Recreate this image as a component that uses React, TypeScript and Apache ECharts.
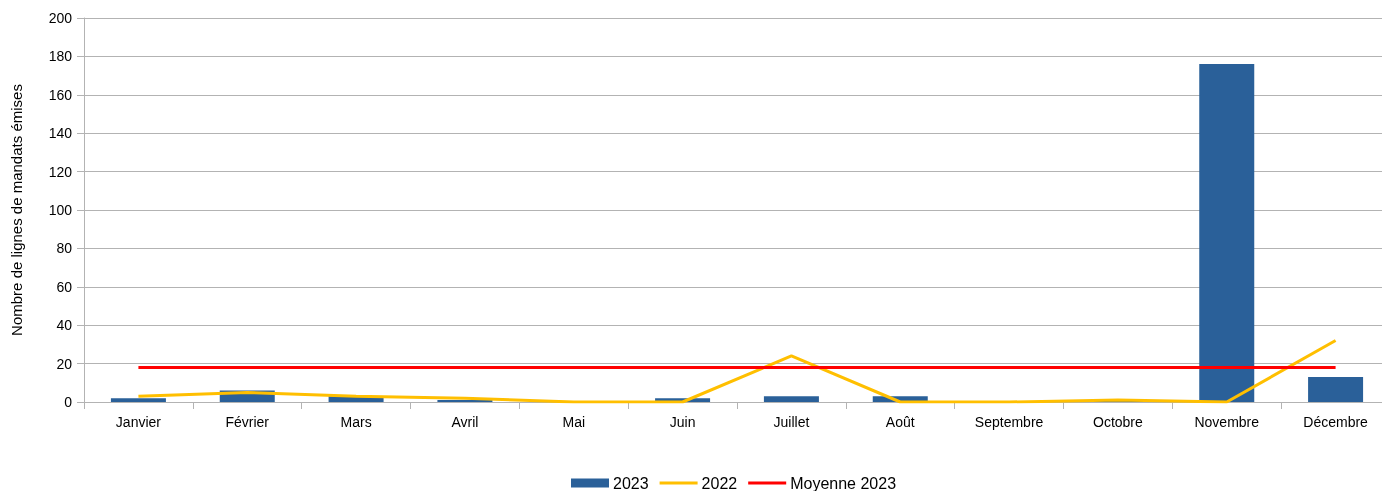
import React, { useEffect, useRef } from "react";
import * as echarts from "echarts";

const categories = ["Janvier", "Février", "Mars", "Avril", "Mai", "Juin", "Juillet", "Août", "Septembre", "Octobre", "Novembre", "Décembre"];
const values2023 = [2, 6, 3, 1, 0, 2, 3, 3, 0, 1, 176, 13];
const values2022 = [3, 5, 3, 2, 0, 0, 24, 0, 0, 1, 0, 32];
const moyenne2023 = [18, 18, 18, 18, 18, 18, 18, 18, 18, 18, 18, 18];
const yTicks = { min: 0, max: 200, interval: 20 };

export default function App() {
  const ref = useRef<HTMLDivElement>(null);
  useEffect(() => {
    const chart = echarts.init(ref.current!, null, { renderer: "svg" });
    const font = "Liberation Sans, Arial, sans-serif";
    chart.setOption({
      animation: false,
      textStyle: { fontFamily: font },
      grid: { left: 84, right: -8, top: 18, bottom: 89, containLabel: false, outerBoundsMode: "none" },
      legend: {
        bottom: -5,
        left: 566,
        itemGap: 11,
        itemWidth: 38,
        itemHeight: 9,
        textStyle: { fontFamily: font, fontSize: 16, color: "#000", padding: [0, 0, 0, -1] },
        data: [
          { name: "2023", icon: "rect" },
          { name: "2022", icon: "path://M0,0H37V3H0Z" },
          { name: "Moyenne 2023", icon: "path://M0,0H37V3H0Z" },
        ],
      },
      xAxis: {
        type: "category",
        data: categories,
        axisLine: { lineStyle: { color: "#b3b3b3", width: 1 } },
        axisTick: { show: true, alignWithLabel: false, length: 7, lineStyle: { color: "#b3b3b3" } },
        axisLabel: { color: "#000", fontSize: 14, margin: 13, fontFamily: font },
      },
      yAxis: {
        type: "value",
        min: yTicks.min,
        max: yTicks.max,
        interval: yTicks.interval,
        name: "Nombre de lignes de mandats émises",
        nameLocation: "middle",
        nameGap: 60,
        nameTextStyle: { color: "#000", fontSize: 15, fontFamily: font },
        axisLine: { show: true, lineStyle: { color: "#b3b3b3" } },
        axisTick: { show: true, length: 7, lineStyle: { color: "#b3b3b3" } },
        axisLabel: { color: "#000", fontSize: 14, margin: 12, fontFamily: font },
        splitLine: { lineStyle: { color: "#b3b3b3", width: 1 } },
      },
      series: [
        {
          name: "2023",
          type: "bar",
          data: values2023,
          barWidth: 55,
          itemStyle: { color: "#2a6099" },
        },
        {
          name: "2022",
          type: "line",
          data: values2022,
          symbol: "none",
          lineStyle: { color: "#ffbf00", width: 3 },
          itemStyle: { color: "#ffbf00" },
        },
        {
          name: "Moyenne 2023",
          type: "line",
          data: moyenne2023,
          symbol: "none",
          lineStyle: { color: "#ff0000", width: 3 },
          itemStyle: { color: "#ff0000" },
        },
      ],
    });
    return () => chart.dispose();
  }, []);
  return <div ref={ref} style={{ position: "fixed", left: 0, top: 0, width: 1382, height: 491 }} />;
}
